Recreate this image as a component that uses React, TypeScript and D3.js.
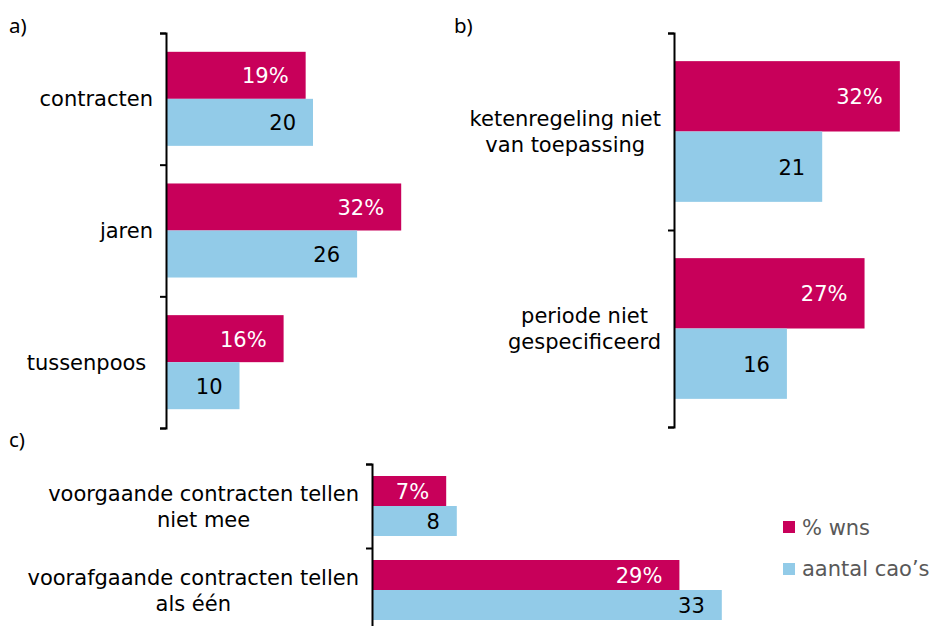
import React, { useEffect, useRef } from "react";
import * as d3 from "d3";

// panel a)
const CATS_A = ["contracten", "jaren", "tussenpoos "];
const WNS_A = [19, 32, 16];
const CAOS_A = [20, 26, 10];

// panel b)
const CATS_B = ["ketenregeling niet\nvan toepassing", "periode niet\ngespecificeerd"];
const WNS_B = [32, 27];
const CAOS_B = [21, 16];

// panel c)
const CATS_C = ["voorgaande contracten tellen\nniet mee", "voorafgaande contracten tellen\nals één"];
const WNS_C = [7, 29];
const CAOS_C = [8, 33];

const SERIES = ["% wns", "aantal cao’s"];
const COLORS = ["#c8005a", "#92cbe8"];
const TEXT_ON = ["#ffffff", "#000000"];

const W = 929;
const H = 626;
const FONT = "'DejaVu Sans', Verdana, sans-serif";

interface Panel {
  letter: string;
  letterX: number;
  letterY: number;
  cats: string[];
  wns: number[];
  caos: number[];
  axisX: number;
  top: number;
  bottom: number;
  xMax: number;
  xEnd: number;
}

const panels: Panel[] = [
  { letter: "a)", letterX: 9, letterY: 33, cats: CATS_A, wns: WNS_A, caos: CAOS_A, axisX: 166, top: 33, bottom: 428, xMax: 40, xEnd: 460 },
  { letter: "b)", letterX: 454, letterY: 33, cats: CATS_B, wns: WNS_B, caos: CAOS_B, axisX: 674, top: 33, bottom: 427, xMax: 35, xEnd: 921 },
  { letter: "c)", letterX: 9, letterY: 447, cats: CATS_C, wns: WNS_C, caos: CAOS_C, axisX: 372, top: 464, bottom: 632, xMax: 35, xEnd: 743 },
];

const App: React.FC = () => {
  const svgRef = useRef<SVGSVGElement | null>(null);

  useEffect(() => {
    if (!svgRef.current) return;
    const svg = d3.select(svgRef.current);
    svg.selectAll("*").remove();

    panels.forEach((p) => {
      const g = svg.append("g");
      const x = d3.scaleLinear().domain([0, p.xMax]).range([p.axisX, p.xEnd]);
      const y = d3.scaleBand<string>().domain(p.cats).range([p.top, p.bottom]).padding(0);
      const sub = d3
        .scaleBand<string>()
        .domain(SERIES)
        .range([0, y.bandwidth()])
        .paddingInner(0)
        .paddingOuter(0.4);

      g.append("text")
        .attr("x", p.letterX)
        .attr("y", p.letterY)
        .attr("font-family", "'Noto Sans', sans-serif")
        .attr("font-size", 20.5)
        .attr("fill", "#000")
        .text(p.letter);

      p.cats.forEach((cat, i) => {
        const vals = [p.wns[i], p.caos[i]];
        vals.forEach((v, s) => {
          const y0 = (y(cat) ?? 0) + (sub(SERIES[s]) ?? 0);
          g.append("rect")
            .attr("x", x(0))
            .attr("y", y0)
            .attr("width", x(v) - x(0))
            .attr("height", sub.bandwidth())
            .attr("fill", COLORS[s]);
          g.append("text")
            .attr("x", x(v) - 17)
            .attr("y", y0 + sub.bandwidth() / 2 + 8)
            .attr("text-anchor", "end")
            .attr("font-family", FONT)
            .attr("font-size", 21)
            .attr("fill", TEXT_ON[s])
            .text(s === 0 ? `${v}%` : `${v}`);
        });

        // category label, lines centred, block right-aligned to the axis
        const lines = cat.split("\n");
        const cy = (y(cat) ?? 0) + y.bandwidth() / 2;
        const lab = g
          .append("text")
          .attr("font-family", FONT)
          .attr("font-size", 21)
          .attr("fill", "#000")
          .style("white-space", "pre");
        const spans = lines.map((ln, k) =>
          lab
            .append("tspan")
            .attr("y", cy + 7.5 + (k - (lines.length - 1) / 2) * 26)
            .text(ln)
        );
        const maxW = d3.max(spans, (t) => (t.node() as SVGTSpanElement).getComputedTextLength()) ?? 0;
        const cx = p.axisX - 13 - maxW / 2;
        spans.forEach((t) => t.attr("x", cx).attr("text-anchor", "middle"));
      });

      const yl = d3.scaleLinear().domain([0, p.cats.length]).range([p.top, p.bottom]);
      const axis = g
        .append("g")
        .attr("transform", `translate(${p.axisX},0)`)
        .call(
          d3
            .axisLeft(yl)
            .tickValues(d3.range(p.cats.length + 1))
            .tickSize(6)
            .tickSizeOuter(6)
            .tickFormat(() => "")
        );
      axis.selectAll("path, line").attr("stroke", "#000").attr("stroke-width", 2);
    });

    // legend
    const leg = svg.append("g");
    SERIES.forEach((s, i) => {
      leg.append("rect")
        .attr("x", 783)
        .attr("y", 521 + i * 42)
        .attr("width", 12)
        .attr("height", 12)
        .attr("fill", COLORS[i]);
      leg.append("text")
        .attr("x", 802)
        .attr("y", 535 + i * 41)
        .attr("font-family", FONT)
        .attr("font-size", 21)
        .attr("fill", "#595959")
        .text(s);
    });
  }, []);

  return (
    <svg
      ref={svgRef}
      width={W}
      height={H}
      style={{ position: "absolute", left: 0, top: 0, background: "#fff" }}
    ></svg>
  );
};

export default App;
